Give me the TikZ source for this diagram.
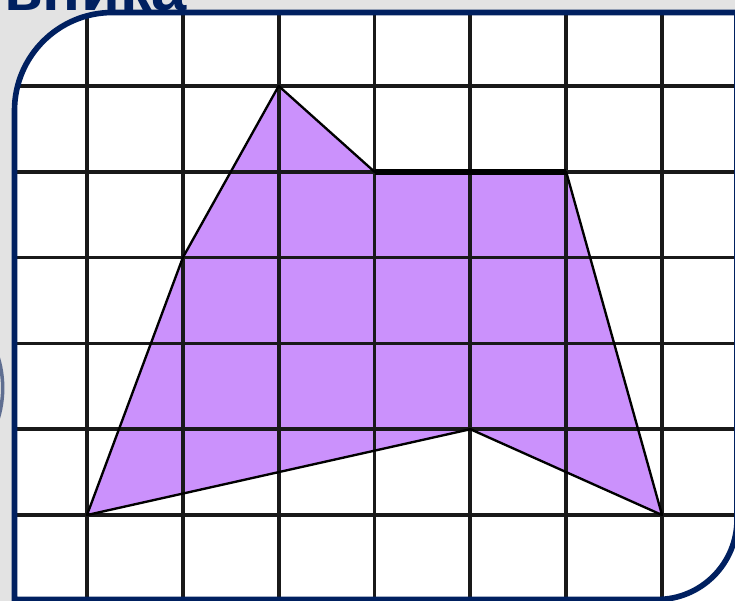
\documentclass[tikz,border=0pt]{standalone}
\usepackage{fontspec}
\setmainfont{Liberation Sans}
\definecolor{framenavy}{RGB}{0,32,96}
\definecolor{figlilac}{RGB}{203,145,252}
\definecolor{knobgray}{RGB}{95,110,145}
\newcommand{\slideoutline}{(14.5,610) -- (14.5,110.5) arc[start angle=180,end angle=270,radius=98]
  -- (737,12.5) -- (737,519.5) arc[start angle=0,end angle=90,radius=80] -- (14.5,599.5) -- cycle}

\begin{document}
\begin{tikzpicture}[x=0.03cm,y=-0.03cm,
  gridline/.style={line width=3.2pt,black!90},
  edge/.style={line width=2pt,black}]
\useasboundingbox (0,0) rectangle (735,601);

% backdrop round the slide
\fill[gray!22] (0,0) rectangle (735,601);
\fill[white] (657,519) rectangle (735,601);
\node[anchor=base east,inner sep=0pt,text=framenavy,font=\fontsize{54}{60}\selectfont\bfseries] (title) at (187,11) {многоугольника};
\draw[line width=3pt,knobgray] (-103,388) circle[radius=105.7];

\fill[white] \slideoutline;

\begin{scope}
\clip \slideoutline;
\begin{scope}[shift={(87,86)},x=2.875cm,y=-2.574cm]
\coordinate (lowleft) at (0,5);
\coordinate (midleft) at (1,2);
\coordinate (apex) at (2,0);
\coordinate (notch) at (3,1);
\coordinate (shoulder) at (5,1);
\coordinate (lowright) at (6,5);
\coordinate (dent) at (4,4);

\fill[figlilac] (lowleft) -- (midleft) -- (apex) -- (notch) -- (shoulder) -- (lowright) -- (dent) -- cycle;
\foreach \i in {-1,...,7} \draw[gridline] (\i,-1) -- (\i,7);
\foreach \j in {-1,...,7} \draw[gridline] (-1,\j) -- (7,\j);
\draw[edge,line join=round] (lowleft) -- (midleft) -- (apex) -- (notch) -- (shoulder) -- (lowright) -- (dent) -- cycle;
\draw[line width=5pt] (notch) -- (shoulder);
\end{scope}
\end{scope}

% slide border
\draw[line width=4.8pt,framenavy] \slideoutline;
\end{tikzpicture}
\end{document}
